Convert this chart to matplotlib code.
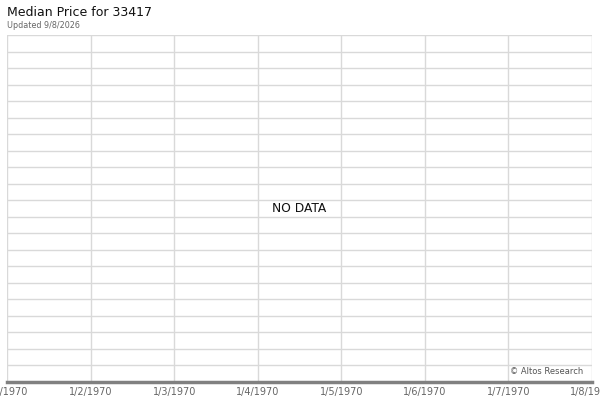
import matplotlib
matplotlib.use("Agg")
import matplotlib.pyplot as plt

title = "Median Price for 33417"
subtitle = "Updated 9/8/2026"
tick_labels = ["1/1/1970", "1/2/1970", "1/3/1970", "1/4/1970",
               "1/5/1970", "1/6/1970", "1/7/1970", "1/8/1970"]
n_hlines = 21
message = "NO DATA"
credit = "© Altos Research"

fig = plt.figure(figsize=(6, 4), dpi=100)
ax = fig.add_axes([7/600, 18/400, 585/600, 347/400])
ax.set_xlim(0, len(tick_labels) - 1)
ax.set_ylim(0, n_hlines)
ax.set_xticks(range(len(tick_labels)))
ax.set_xticklabels(tick_labels, fontsize=7, color="#666666")
ax.set_yticks(range(n_hlines + 1))
ax.set_yticklabels([])
ax.tick_params(axis="both", length=0, pad=3.5)
ax.grid(True, color="#d9d9d9", linewidth=1)
ax.set_axisbelow(True)
for s in ["top", "left", "right"]:
    ax.spines[s].set_visible(False)
ax.spines["bottom"].set_color("#808080")
ax.spines["bottom"].set_linewidth(2.5)

ax.text(0.5, 0.5, message, transform=ax.transAxes, ha="center", va="center",
        fontsize=8.8, color="#111111")
ax.text(0.985, 0.03, credit, transform=ax.transAxes, ha="right", va="center",
        fontsize=6, color="#555555")

fig.text(7/600, 1 - 13/400, title, fontsize=9, color="#111111", va="center", ha="left")
fig.text(7/600, 1 - 25/400, subtitle, fontsize=5.8, color="#666666", va="center", ha="left")

fig.savefig("out.png", dpi=100)
